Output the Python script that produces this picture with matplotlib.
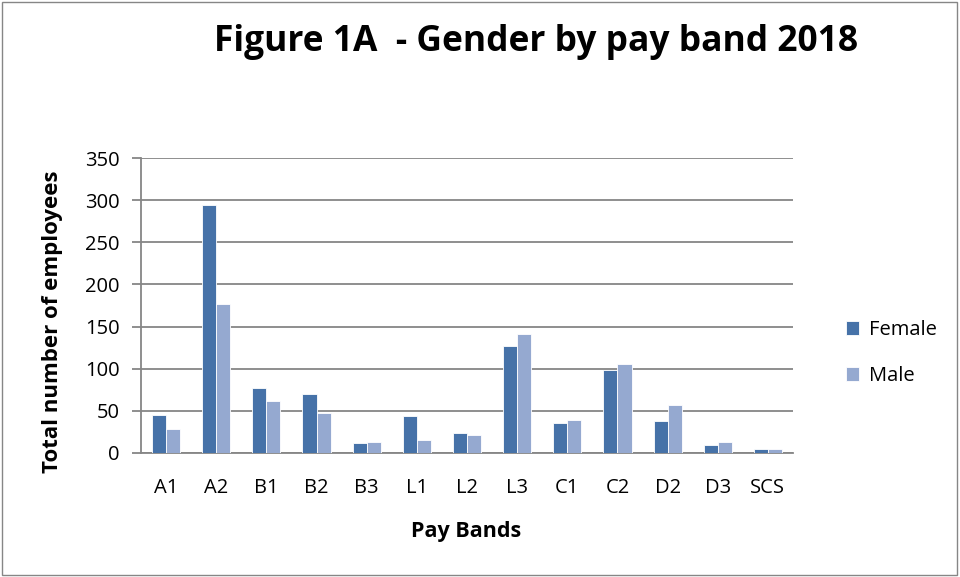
import numpy as np
import matplotlib.pyplot as plt
from matplotlib.patches import Rectangle

plt.rcParams['font.family'] = ['Open Sans', 'DejaVu Sans']

bands = ['A1', 'A2', 'B1', 'B2', 'B3', 'L1', 'L2', 'L3', 'C1', 'C2', 'D2', 'D3', 'SCS']
female = [45, 294, 77, 70, 12, 44, 24, 127, 36, 99, 38, 9, 5]
male = [29, 177, 62, 47, 13, 16, 21, 141, 39, 106, 57, 13, 5]

fig = plt.figure(figsize=(9.6, 5.77), dpi=100)
ax = fig.add_axes([141 / 960, 1 - 453 / 577, 652 / 960, 295 / 577])

x = np.arange(len(bands))
w = 0.28
ax.bar(x - w / 2, female, w, color='#4672a8', edgecolor='white', linewidth=0.6, label='Female', zorder=3)
ax.bar(x + w / 2, male, w, color='#95a9d0', edgecolor='white', linewidth=0.6, label='Male', zorder=3)

ax.set_xlim(-0.5, len(bands) - 0.5)
ax.set_ylim(0, 350)
ax.set_yticks(range(0, 351, 50))
ax.set_xticks(x)
ax.set_xticklabels(bands)
ax.yaxis.grid(True, color='#868686', linewidth=1.3, zorder=0)
for s in ['top', 'right']:
    ax.spines[s].set_visible(False)
ax.spines['left'].set_color('#868686')
ax.spines['bottom'].set_color('#868686')
ax.spines['left'].set_linewidth(1.3)
ax.spines['bottom'].set_linewidth(1.3)
ax.tick_params(axis='y', length=6.5, color='#868686', width=1.3, labelsize=14.5, pad=9)
ax.tick_params(axis='x', length=0, labelsize=14.5, pad=18)

ax.set_ylabel('Total number of employees', fontsize=16, fontweight='bold')
ax.yaxis.set_label_coords(63 / 960, 1 - 322 / 577, transform=fig.transFigure)
ax.set_xlabel('Pay Bands', fontsize=15.5, fontweight='bold')
ax.xaxis.set_label_coords(466 / 960, 1 - 521 / 577, transform=fig.transFigure)

fig.text(536 / 960, 1 - 42 / 577, 'Figure 1A  - Gender by pay band 2018', ha='center', va='center',
         fontsize=25.5, fontweight='bold')

ax.legend(loc='center left', bbox_to_anchor=(828 / 960, 1 - 353 / 577), bbox_transform=fig.transFigure,
          frameon=False, fontsize=14.5, handlelength=0.65, handleheight=0.65, labelspacing=1.3,
          handletextpad=0.5)

fig.patches.append(Rectangle((0.002, 0.003), 0.995, 0.994, transform=fig.transFigure,
                             fill=False, edgecolor='#868686', linewidth=1))

fig.savefig('out.png', dpi=100)
